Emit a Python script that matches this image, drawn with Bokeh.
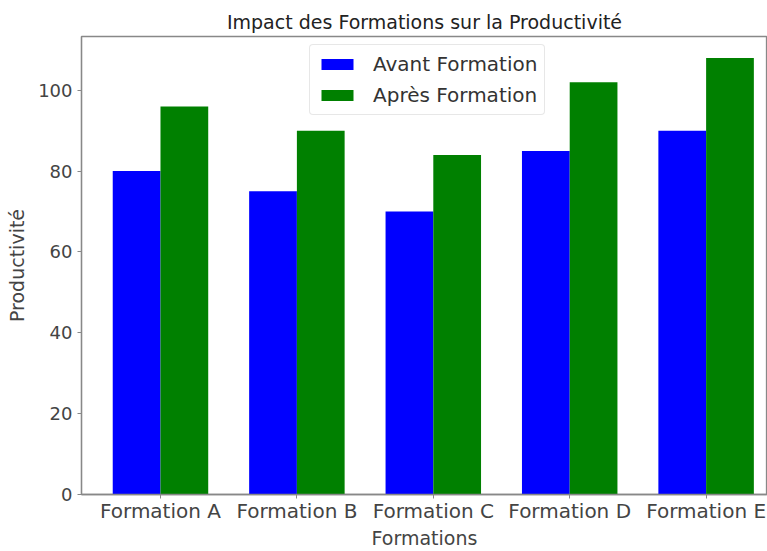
from bokeh.plotting import figure
from bokeh.models import FixedTicker, Range1d, Legend, LegendItem
from bokeh.embed import file_html
from bokeh.resources import INLINE

categories = ["Formation A", "Formation B", "Formation C", "Formation D", "Formation E"]
avant = [80, 75, 70, 85, 90]
apres = [96, 90, 84, 102, 108]
y_ticks = [0, 20, 40, 60, 80, 100]

FONT = "DejaVu Sans"
idx = list(range(len(categories)))
w = 0.35

p = figure(width=767, height=551, output_backend="svg", toolbar_location=None,
           x_range=Range1d(-0.579, 4.45), y_range=Range1d(0, 113.3),
           min_border_left=81, min_border_right=0, min_border_top=36, min_border_bottom=54)

r1 = p.vbar(x=[i - w / 2 for i in idx], top=avant, width=w, color="#0000ff", line_color=None)
r2 = p.vbar(x=[i + w / 2 for i in idx], top=apres, width=w, color="#008000", line_color=None)

p.title.text = "Impact des Formations sur la Productivité"
p.title.align = "center"
p.title.text_font = FONT
p.title.text_font_size = "19px"
p.title.text_font_style = "normal"
p.title.text_color = "#222222"
p.title.standoff = 7

p.xgrid.visible = False
p.ygrid.visible = False
p.outline_line_color = "#888888"
p.outline_line_width = 1.3

for ax in (p.xaxis, p.yaxis):
    ax.axis_line_color = "#888888"
    ax.axis_line_width = 1.3
    ax.major_tick_line_color = "#888888"
    ax.major_tick_out = 4
    ax.major_tick_in = 0
    ax.minor_tick_line_color = None
    ax.major_label_text_font = FONT
    ax.major_label_text_font_size = "19px"
    ax.major_label_text_color = "#444444"
    ax.axis_label_text_font = FONT
    ax.axis_label_text_font_size = "19px"
    ax.axis_label_text_font_style = "normal"
    ax.axis_label_text_color = "#444444"

p.yaxis.major_label_text_font_size = "18px"
p.xaxis.major_label_text_font_size = "20px"

p.xaxis.ticker = FixedTicker(ticks=idx)
p.xaxis.major_label_overrides = {i: c for i, c in zip(idx, categories)}
p.xaxis.axis_label = "Formations"
p.xaxis.major_label_standoff = 0
p.xaxis.axis_label_standoff = 1

p.yaxis.ticker = FixedTicker(ticks=y_ticks)
p.yaxis.axis_label = "Productivité"
p.yaxis.major_label_standoff = 5
p.yaxis.axis_label_standoff = 7

legend = Legend(items=[LegendItem(label="Avant Formation", renderers=[r1]),
                       LegendItem(label="Après Formation", renderers=[r2])],
                location=(228, 379))
legend.label_text_font = FONT
legend.label_text_font_size = "20px"
legend.label_text_color = "#333333"
legend.glyph_width = 40
legend.glyph_height = 14
legend.label_height = 22
legend.label_standoff = 16
legend.spacing = 7
legend.padding = 7
legend.margin = 0
legend.border_line_color = "#d0d0d0"
legend.border_radius = 4
legend.background_fill_alpha = 0.9
p.add_layout(legend)

open("out.html", "w").write(file_html(p, INLINE))
